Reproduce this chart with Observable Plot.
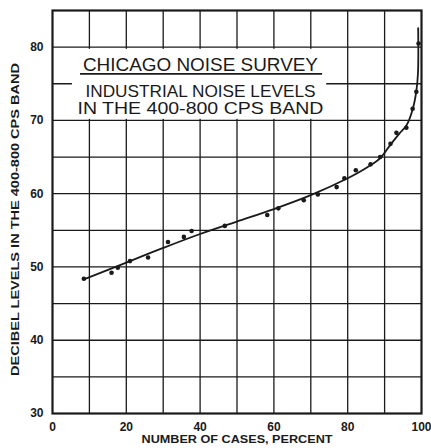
<!DOCTYPE html>
<html><head><meta charset="utf-8">
<script src="https://cdn.jsdelivr.net/npm/d3@7"></script>
<script src="https://cdn.jsdelivr.net/npm/@observablehq/plot@0.6"></script>
<style>body{margin:0;background:#fff;}</style>
</head><body><div id="chart"></div>
<script>
// Observed survey points (percent of cases vs. dB level)
const casesPct = [8.5, 16, 17.7, 21, 25.9, 31.3, 35.6, 37.7, 46.7, 58.2, 61.2, 68.1, 71.9, 77, 79.1, 82.2, 86.2, 88.8, 91.6, 93.2, 95.9, 97.6, 98.6, 99.2];
const dbLevel  = [48.4, 49.2, 49.9, 50.8, 51.3, 53.4, 54.1, 54.9, 55.6, 57.1, 58.0, 59.1, 59.9, 60.9, 62.1, 63.2, 64.0, 65.0, 66.8, 68.3, 69.0, 71.6, 73.9, 80.5];
// Fitted distribution curve
const fitPct = [8.5, 20, 30, 40, 50, 60, 70, 80, 85, 88.9, 91.6, 94, 95.9, 97.6, 98.6, 99.05, 99.1];
const fitDb  = [48.3, 50.6, 52.6, 54.5, 56.2, 57.9, 59.8, 62.1, 63.5, 64.9, 66.7, 68.2, 69.3, 71.5, 74, 76.5, 82.6];
// Axis ticks & grid
const xTicks = [0, 20, 40, 60, 80, 100];
const yTicks = [30, 40, 50, 60, 70, 80];
const xGrid = [10, 20, 30, 40, 50, 60, 70, 80, 90];
const yGrid = [35, 40, 45, 50, 55, 60, 65, 70, 75, 80];
// Texts
const titleLines = ["CHICAGO NOISE SURVEY", "INDUSTRIAL NOISE LEVELS", "IN THE 400-800 CPS BAND"];
const xLabel = "NUMBER OF CASES, PERCENT";
const yLabel = "DECIBEL LEVELS IN THE 400-800 CPS BAND";

const points = casesPct.map((x, i) => ({x, y: dbLevel[i]}));
const fit = fitPct.map((x, i) => ({x, y: fitDb[i]}));

// Title panel annotation (data units)
const panel = {x1: 5.4, x2: 74.3, y1: 70.15, y2: 79.7};
const titleX = 40.1;
const titleY = [77.6, 74.0, 71.6];
const underline = {y: 76.35, x1: 7.6, x2: 73.2};

const ink = "#1a1a1a";
const svg = Plot.plot({
  width: 431, height: 448,
  marginLeft: 52, marginRight: 10, marginTop: 10, marginBottom: 35,
  style: {fontFamily: "Liberation Sans, Arial, sans-serif", fontSize: "12px", fontWeight: "bold", color: ink, background: "#fff"},
  x: {domain: [0, 100], ticks: xTicks, tickSize: 0, tickPadding: 9, label: null},
  y: {domain: [30, 85], ticks: yTicks, tickSize: 0, tickPadding: 9, label: null},
  marks: [
    Plot.ruleX(xGrid, {stroke: ink, strokeWidth: 1.3}),
    Plot.ruleY(yGrid, {stroke: ink, strokeWidth: 1.3}),
    Plot.rect([panel], {x1: "x1", x2: "x2", y1: "y1", y2: "y2", fill: "#fff"}),
    Plot.text([titleLines[0]], {x: titleX, y: titleY[0], text: d => d, fontSize: 18.5, fontWeight: "normal", fill: ink, ariaDescription: "t1"}),
    Plot.ruleY([underline], {y: "y", x1: "x1", x2: "x2", stroke: ink, strokeWidth: 1.6}),
    Plot.text([titleLines[1]], {x: titleX, y: titleY[1], text: d => d, fontSize: 17, fontWeight: "normal", fill: ink, ariaDescription: "t2"}),
    Plot.text([titleLines[2]], {x: titleX, y: titleY[2], text: d => d, fontSize: 17, fontWeight: "normal", fill: ink, ariaDescription: "t3"}),
    Plot.line(fit, {x: "x", y: "y", stroke: ink, strokeWidth: 1.8, curve: "catmull-rom"}),
    Plot.dot(points, {x: "x", y: "y", r: 2.3, fill: ink, stroke: "none"}),
    Plot.frame({stroke: ink, strokeWidth: 2.2}),
    Plot.text([xLabel], {frameAnchor: "bottom", dy: 29, text: d => d, fontSize: 10, fill: ink, ariaDescription: "xl"}),
    Plot.text([yLabel], {frameAnchor: "left", dx: -37, dy: 7.5, rotate: -90, textAnchor: "middle", text: d => d, fontSize: 10, fill: ink, ariaDescription: "yl"})
  ]
});
const fit_ = (lab, len) => d3.select(svg).selectAll(`g[aria-description="${lab}"] text`).attr("textLength", len).attr("lengthAdjust", "spacingAndGlyphs");
fit_("t1", 235); fit_("t2", 230); fit_("t3", 246); fit_("xl", 191); fit_("yl", 313);
document.getElementById("chart").appendChild(svg);
</script>
</body></html>
